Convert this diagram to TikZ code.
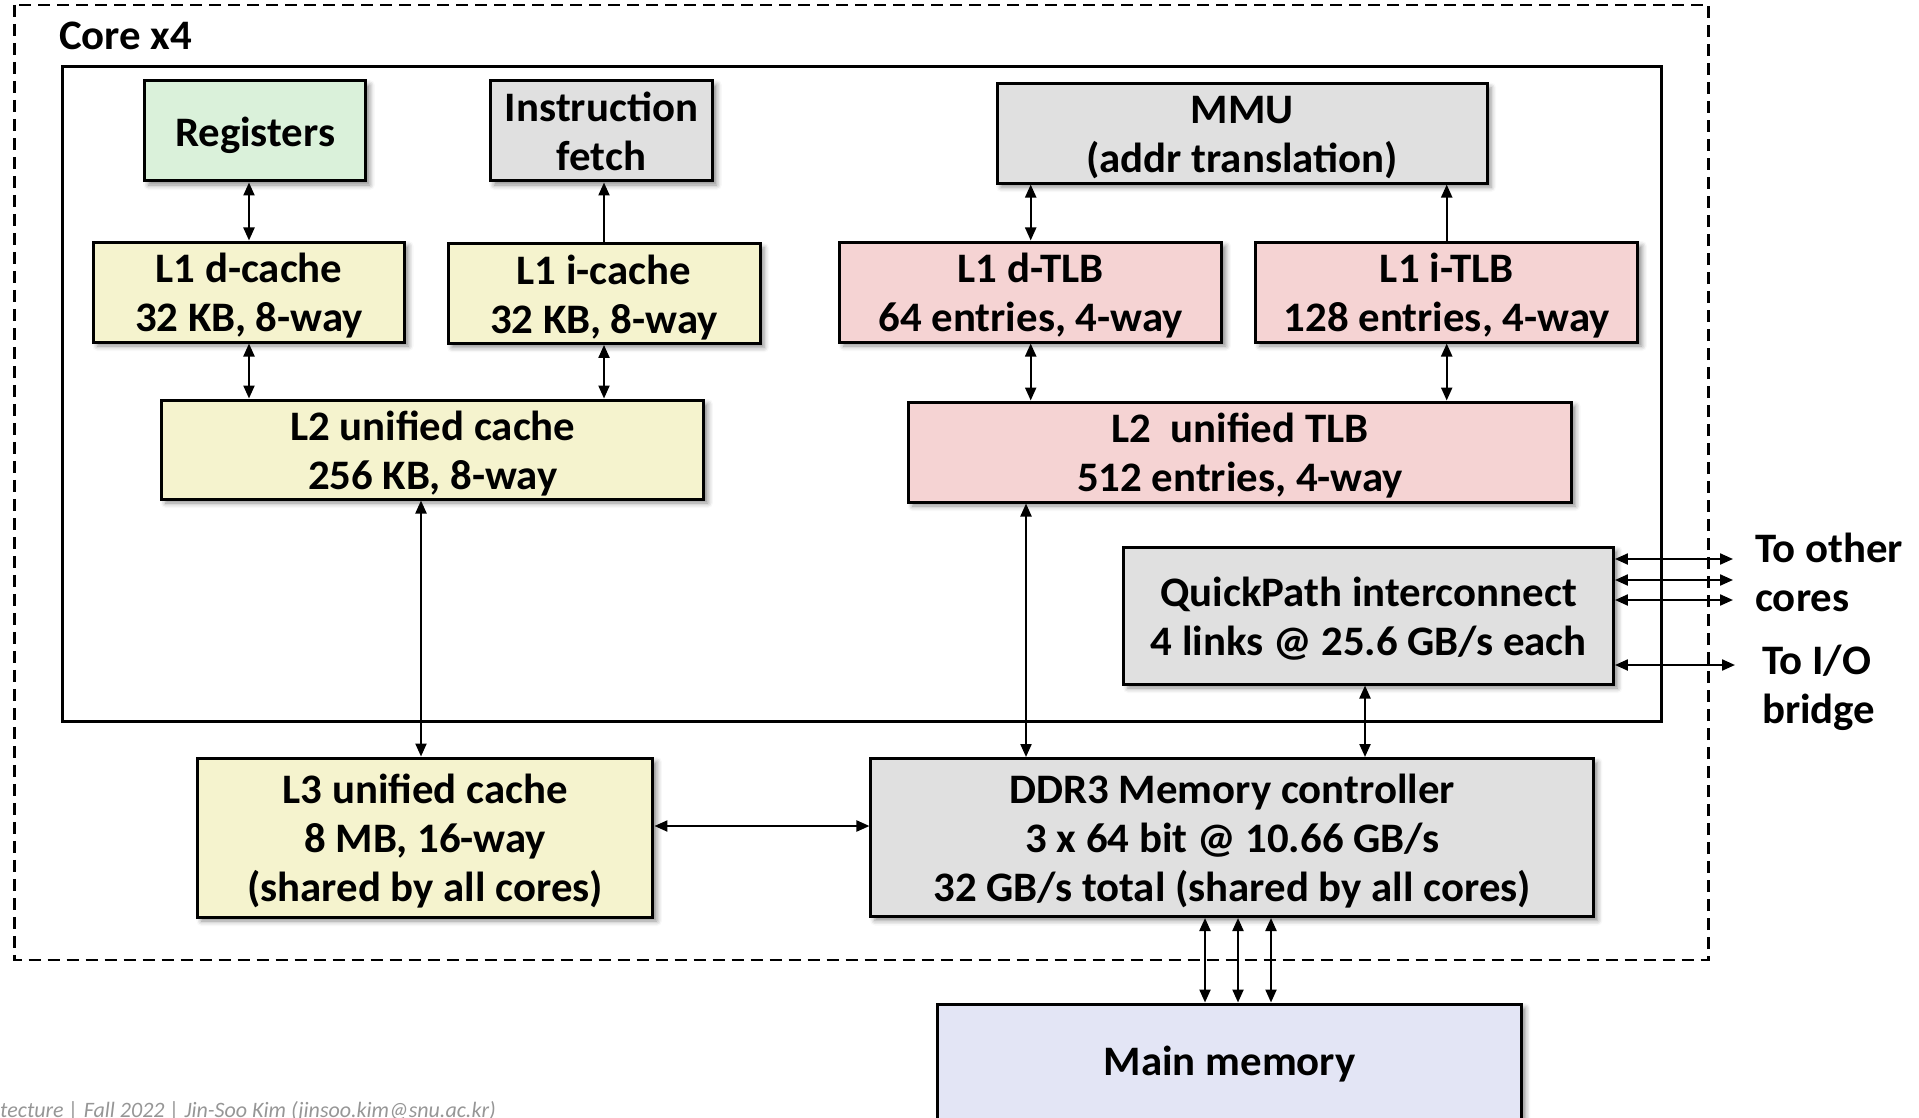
\documentclass[tikz,border=0pt]{standalone}
\usepackage{fontspec}
\setmainfont{Carlito}[FakeStretch=1.02]
\newfontfamily\footfont{Carlito}
\usetikzlibrary{arrows.meta,shadows.blur}
\definecolor{regfill}{RGB}{218,241,218}
\definecolor{cachefill}{RGB}{245,243,206}
\definecolor{tlbfill}{RGB}{245,211,211}
\definecolor{grayfill}{RGB}{224,224,224}
\definecolor{memfill}{RGB}{227,229,245}
\definecolor{footgray}{RGB}{150,150,150}
\newcommand{\sx}{\rule[-9.3pt]{0pt}{49pt}}
\tikzset{
  box/.style={draw=black, line width=3pt, inner sep=0pt, align=center,
    font=\fontsize{42pt}{49pt}\selectfont\bfseries,
    blur shadow={shadow xshift=4pt, shadow yshift=-4pt, shadow blur radius=5pt, shadow opacity=45}},
  lbl/.style={inner sep=0pt, align=left, font=\fontsize{42pt}{49pt}\selectfont\bfseries},
  conn/.style={line width=2.2pt},
  dbl/.style={conn, {Triangle[length=13pt,width=11pt]}-{Triangle[length=13pt,width=11pt]}},
  sgl/.style={conn, -{Triangle[length=13pt,width=11pt]}}
}
\begin{document}
\begin{tikzpicture}[x=1pt,y=-1pt]
\useasboundingbox (0,0) rectangle (1919,1118);
\clip (0,0) rectangle (1919,1118);

% containers
\draw[line width=2.5pt, dash pattern=on 12pt off 7pt] (14.7,4.9) rectangle (1708.6,960);
\node[lbl, anchor=base west] (core) at (59,50) {Core x4};
\draw[line width=3pt] (62.4,67) rectangle (1661,721);

% boxes
\node[box, fill=regfill, minimum width=221.4pt, minimum height=100pt] (reg) at (255.1,131) {\sx Registers};
\node[box, fill=grayfill, minimum width=222.5pt, minimum height=100pt] (ifetch) at (601.5,131) {\sx Instruction\\\sx fetch};
\node[box, fill=grayfill, minimum width=490pt, minimum height=99.5pt] (mmu) at (1242,133.3) {\sx MMU\\\sx (addr translation)};
\node[box, fill=cachefill, minimum width=311.2pt, minimum height=100pt] (l1d) at (249,292) {\sx L1 d-cache\\\sx 32 KB, 8-way};
\node[box, fill=cachefill, minimum width=312pt, minimum height=99.5pt] (l1i) at (604,293.7) {\sx L1 i-cache\\\sx 32 KB, 8-way};
\node[box, fill=tlbfill, minimum width=382.5pt, minimum height=100pt] (dtlb) at (1030.7,292) {\sx L1 d-TLB\\\sx 64 entries, 4-way};
\node[box, fill=tlbfill, minimum width=382.5pt, minimum height=100pt] (itlb) at (1446.7,292) {\sx L1 i-TLB\\\sx 128 entries, 4-way};
\node[box, fill=cachefill, minimum width=542.3pt, minimum height=99pt] (l2) at (432.8,449.5) {\sx L2 unified cache\\\sx 256 KB, 8-way};
\node[box, fill=tlbfill, minimum width=663pt, minimum height=100pt] (l2tlb) at (1240,452) {\sx L2\ \ unified TLB\\\sx 512 entries, 4-way};
\node[box, fill=grayfill, minimum width=489.5pt, minimum height=137pt] (qpi) at (1368.7,615.5) {\sx QuickPath interconnect\\\sx 4 links @ 25.6 GB/s each};
\node[box, fill=cachefill, minimum width=455.5pt, minimum height=159pt] (l3) at (425.2,837.5) {\sx L3 unified cache\\\sx 8 MB, 16-way\\\sx (shared by all cores)};
\node[box, fill=grayfill, minimum width=722.5pt, minimum height=158pt] (ddr) at (1232.2,837.5) {\sx DDR3 Memory controller\\\sx 3 x 64 bit @ 10.66 GB/s\\\sx 32 GB/s total (shared by all cores)};
\node[box, fill=memfill, minimum width=583.5pt, minimum height=160pt, text height=39.7pt, text depth=57.7pt] (mem) at (1229.7,1084) {Main memory};

% side labels
\node[lbl, anchor=north west] (toc) at (1755,522.3) {\sx To other\\\sx cores};
\node[lbl, anchor=north west] (tio) at (1762,634.3) {\sx To I/O\\\sx bridge};

% footer
\node[anchor=base west, inner sep=0pt, font=\footfont\fontsize{22pt}{26pt}\selectfont\itshape, text=footgray] (foot) at (0,1117) {tecture | Fall 2022 | Jin-Soo Kim (jinsoo.kim@snu.ac.kr)};

% helper coordinates
\coordinate (xa) at (421,0);
\coordinate (xb) at (1026,0);
\coordinate (xc) at (1365,0);
\coordinate (yd) at (0,826);
\coordinate (m1) at (1205,0);
\coordinate (m2) at (1238,0);
\coordinate (m3) at (1271,0);
\coordinate (o1) at (1733,559);
\coordinate (o2) at (1733,580);
\coordinate (o3) at (1733,600);
\coordinate (io) at (1735,665);

% connectors
\draw[dbl] (reg.south -| l1d.north) -- (l1d.north);
\draw[dbl] (l1d.south) -- (l1d.south |- l2.north);
\draw[sgl] (l1i.north) -- (l1i.north |- ifetch.south);
\draw[dbl] (l1i.south) -- (l1i.south |- l2.north);
\draw[dbl] (mmu.south -| dtlb.north) -- (dtlb.north);
\draw[sgl] (itlb.north) -- (itlb.north |- mmu.south);
\draw[dbl] (dtlb.south) -- (dtlb.south |- l2tlb.north);
\draw[dbl] (itlb.south) -- (itlb.south |- l2tlb.north);
\draw[dbl] (l2.south -| xa) -- (l3.north -| xa);
\draw[dbl] (l2tlb.south -| xb) -- (ddr.north -| xb);
\draw[dbl] (qpi.south -| xc) -- (ddr.north -| xc);
\draw[dbl] (l3.east |- yd) -- (ddr.west |- yd);
\draw[dbl] (ddr.south -| m1) -- (mem.north -| m1);
\draw[dbl] (ddr.south -| m2) -- (mem.north -| m2);
\draw[dbl] (ddr.south -| m3) -- (mem.north -| m3);
\draw[dbl] (qpi.east |- o1) -- (o1);
\draw[dbl] (qpi.east |- o2) -- (o2);
\draw[dbl] (qpi.east |- o3) -- (o3);
\draw[dbl] (qpi.east |- io) -- (io);
\end{tikzpicture}
\end{document}
